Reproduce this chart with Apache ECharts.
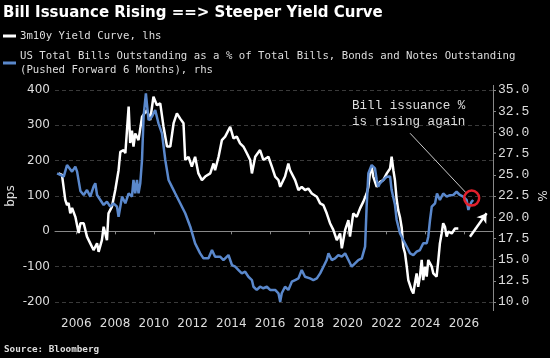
<!DOCTYPE html>
<html>
<head>
<meta charset="utf-8">
<script src="https://cdn.jsdelivr.net/npm/echarts@6/dist/echarts.min.js"></script>
<style>
html,body{margin:0;padding:0;background:#000;}
#chart{width:550px;height:358px;}
</style>
</head>
<body>
<div id="chart"></div>
<script>
// 3m10y yield curve (bps, left axis)
const curveYears = [2005.09,2005.26,2005.43,2005.52,2005.60,2005.69,2005.78,2005.95,2006.12,2006.21,2006.38,2006.55,2006.72,2006.89,2007.07,2007.15,2007.32,2007.41,2007.58,2007.66,2007.84,2008.01,2008.18,2008.27,2008.44,2008.53,2008.70,2008.78,2008.87,2008.95,2009.04,2009.21,2009.39,2009.64,2009.81,2009.98,2010.16,2010.33,2010.50,2010.68,2010.85,2011.02,2011.19,2011.36,2011.53,2011.62,2011.79,2011.96,2012.13,2012.30,2012.48,2012.65,2012.91,2013.08,2013.16,2013.34,2013.51,2013.68,2013.94,2014.11,2014.28,2014.45,2014.62,2014.80,2014.97,2015.06,2015.23,2015.48,2015.65,2015.91,2016.09,2016.26,2016.43,2016.52,2016.77,2016.94,2017.03,2017.29,2017.46,2017.63,2017.80,2017.97,2018.15,2018.41,2018.58,2018.75,2018.92,2019.09,2019.26,2019.44,2019.61,2019.70,2019.87,2020.04,2020.12,2020.29,2020.47,2020.64,2020.81,2020.98,2021.07,2021.15,2021.24,2021.32,2021.50,2021.67,2021.84,2022.02,2022.19,2022.27,2022.36,2022.44,2022.53,2022.61,2022.70,2022.79,2022.87,2022.96,2023.05,2023.13,2023.30,2023.39,2023.47,2023.56,2023.64,2023.73,2023.82,2023.90,2023.99,2024.08,2024.16,2024.34,2024.42,2024.59,2024.68,2024.76,2024.85,2024.93,2025.02,2025.11,2025.19,2025.37,2025.54,2025.71];
const curveBps = [164,160,89,74,80,51,66,41,-5,23,23,-15,-34,-53,-34,-58,-25,13,-25,51,70,117,173,225,230,221,353,250,285,240,277,258,324,343,315,381,357,362,296,240,240,306,334,319,306,202,211,183,211,164,145,155,164,192,173,211,258,268,296,263,268,249,240,221,202,164,211,230,202,211,183,155,145,126,155,192,173,145,117,126,117,121,107,98,79,74,51,23,4,-25,-6,-48,4,32,-15,51,41,65,84,107,126,164,183,155,126,140,145,164,178,211,173,145,90,60,40,10,-44,-62,-100,-138,-166,-176,-147,-119,-157,-128,-81,-138,-100,-128,-81,-100,-119,-128,-81,-34,-6,23,13,-15,-1,-6,8,8];

// US bills as % of bills, bonds and notes (pushed forward 6 months, right axis)
const billYears = [2005.01,2005.18,2005.35,2005.52,2005.60,2005.78,2005.95,2006.04,2006.21,2006.38,2006.55,2006.72,2006.89,2006.98,2007.07,2007.24,2007.41,2007.58,2007.75,2007.92,2008.10,2008.18,2008.36,2008.53,2008.70,2008.87,2008.95,2009.04,2009.13,2009.21,2009.30,2009.39,2009.47,2009.59,2009.64,2009.73,2009.90,2010.07,2010.24,2010.42,2010.59,2010.76,2010.93,2011.10,2011.36,2011.62,2011.88,2012.13,2012.39,2012.56,2012.82,2013.00,2013.16,2013.42,2013.59,2013.85,2014.03,2014.20,2014.37,2014.54,2014.71,2014.88,2015.06,2015.14,2015.31,2015.48,2015.65,2015.83,2016.00,2016.26,2016.43,2016.52,2016.60,2016.77,2016.94,2017.12,2017.29,2017.46,2017.63,2017.80,2018.06,2018.23,2018.41,2018.58,2018.75,2018.92,2019.01,2019.18,2019.35,2019.52,2019.70,2019.87,2020.04,2020.21,2020.38,2020.55,2020.73,2020.81,2020.90,2020.98,2021.07,2021.24,2021.41,2021.50,2021.58,2021.67,2021.84,2022.02,2022.19,2022.27,2022.44,2022.53,2022.70,2022.87,2023.05,2023.22,2023.39,2023.56,2023.73,2023.90,2024.08,2024.16,2024.25,2024.34,2024.51,2024.61,2024.76,2024.93,2025.11,2025.28,2025.45,2025.62,2025.79,2025.96,2026.14,2026.23,2026.31,2026.40,2026.48];
const billPct = [25.18,24.98,24.78,26.15,25.96,25.37,25.96,25.37,23.1,22.62,23.2,22.42,23.6,24.0,22.62,22.03,21.44,21.83,21.24,21.64,21.24,20.06,22.42,21.64,22.82,22.42,24.39,22.82,24.39,22.82,24.0,26.75,31.85,34.6,33.43,31.46,31.85,32.64,31.07,29.89,26.75,24.39,23.6,22.82,21.64,20.46,18.88,16.92,15.74,15.15,15.15,16.13,15.34,15.34,14.95,15.54,14.36,14.16,13.77,13.38,13.57,12.98,12.59,11.8,11.42,11.8,11.62,11.8,11.42,11.42,11.03,10.04,11.03,11.8,11.42,12.39,12.59,12.79,13.77,12.98,12.79,12.59,12.79,13.38,14.16,14.95,15.74,14.95,15.15,15.54,15.34,15.74,14.95,14.16,14.56,14.95,15.15,14.95,16.52,21.24,25.18,26.15,25.76,24.39,23.6,24.0,24.39,24.78,24.8,23.2,21.5,19.67,18.1,17.31,16.52,15.74,15.54,15.93,16.13,16.92,16.92,17.7,19.67,21.24,21.64,22.8,22.03,22.8,22.42,22.6,22.62,23.0,22.62,22.42,22.03,20.85,21.44,21.83,22.03];

const xTickYears = [2006,2008,2010,2012,2014,2016,2018,2020,2022,2024,2026];
const leftTicks = [-200,-100,0,100,200,300,400];
const rightTicks = [10,12.5,15,17.5,20,22.5,25,27.5,30,32.5,35];

const titleText = 'Bill Issuance Rising ==> Steeper Yield Curve';
const curveName = '3m10y Yield Curve, lhs';
const billName = 'US Total Bills Outstanding as a % of Total Bills, Bonds and Notes Outstanding\n(Pushed Forward 6 Months), rhs';

const chart = echarts.init(document.getElementById('chart'), null, {renderer:'canvas'});
const pair = (xs, ys) => xs.map((x, i) => [x, ys[i]]);

const option = {
  animation: false,
  backgroundColor: '#000',
  title: {
    text: titleText, left: 3, top: 6, padding: 0,
    textStyle: {color:'#fff', fontFamily:'DejaVu Sans', fontWeight:'bold', fontSize:15}
  },
  legend: {
    orient: 'vertical', left: 3, top: 29, padding: 0, itemWidth: 13, itemHeight: 3, itemGap: 6,
    icon: 'rect', selectedMode: false,
    textStyle: {color:'#ddd', fontFamily:'DejaVu Sans Mono', fontSize:10.7, lineHeight:14, padding:[0,0,0,-1]},
    data: [curveName, billName]
  },
  grid: {left: 55, right: 57, top: 90, bottom: 56, containLabel: false, outerBoundsMode: 'none'},
  xAxis: {
    type: 'value', min: 2004.9, max: 2027.5, offset: 9,
    axisLine: {show:true, lineStyle:{color:'#888', width:1}},
    axisTick: {show:true, length:3, customValues: xTickYears, lineStyle:{color:'#888'}},
    axisLabel: {customValues: xTickYears, color:'#ddd', fontFamily:'DejaVu Sans', fontSize:12, margin:7,
      formatter: v => String(Math.round(v))},
    splitLine: {show:false}
  },
  yAxis: [{
    type: 'value', min: -200, max: 400, interval: 100, position: 'left',
    name: 'bps', nameLocation: 'middle', nameRotate: 90, nameGap: 38, nameMoveOverlap: false,
    nameTextStyle: {color:'#ddd', fontFamily:'DejaVu Sans', fontSize:12},
    axisLine: {show:false}, axisTick: {show:false},
    axisLabel: {color:'#ddd', fontFamily:'DejaVu Sans', fontSize:12, margin:5},
    splitLine: {show:true, lineStyle:{color:['#3a3a3a','#3a3a3a','#9a9a9a','#3a3a3a','#3a3a3a','#3a3a3a','#3a3a3a'], type:[4,3], width:1}}
  },{
    type: 'value', min: 10, max: 35, interval: 2.5, position: 'right',
    name: '%', nameLocation: 'middle', nameRotate: -90, nameGap: 42, nameMoveOverlap: false,
    nameTextStyle: {color:'#ddd', fontFamily:'DejaVu Sans', fontSize:12},
    axisLine: {show:false},
    axisTick: {show:true, length:3, lineStyle:{color:'#888'}},
    axisLabel: {color:'#ddd', fontFamily:'Liberation Mono', fontSize:13, margin:5, formatter: v => v.toFixed(1)},
    splitLine: {show:false}
  }],
  graphic: [
    {type:'line', shape:{x1:493.5, y1:85, x2:493.5, y2:311}, style:{stroke:'#888', lineWidth:1}, silent:true},
    {type:'text', left: 352, top: 97, style:{text:'Bill issuance %\nis rising again', fill:'#ddd', font:'12.6px "Liberation Mono"', lineHeight:16.5}}
  ],
  series: [{
    name: curveName, type: 'line', yAxisIndex: 0, showSymbol: false, color: '#ffffff',
    lineStyle: {color:'#ffffff', width: 2.5}, data: pair(curveYears, curveBps), z: 3
  },{
    name: billName, type: 'line', yAxisIndex: 1, showSymbol: false, color: '#5a88cc',
    lineStyle: {color:'#5a88cc', width: 2.5}, data: pair(billYears, billPct), z: 4,
    markLine: {
      silent: true, animation: false, label: {show:false},
      data: [
        [{coord:[2023.22, 29.9], symbol:'none', lineStyle:{color:'#ccc', width:1, type:'solid'}},
         {coord:[2026.14, 22.8], symbol:'none'}],
        [{coord:[2026.31, 17.7], symbol:'none', lineStyle:{color:'#fff', width:2.5, type:'solid'}},
         {coord:[2027.17, 20.46], symbol:'arrow', symbolSize:[9,9]}]
      ]
    },
    markPoint: {
      silent: true, animation: false,
      data: [{coord:[2026.40, 22.25], symbol:'circle', symbolSize:15,
        itemStyle:{color:'rgba(0,0,0,0)', borderColor:'#e2202c', borderWidth:2.5}, label:{show:false}}]
    }
  }]
};
chart.setOption(option);
</script>
<div style="position:absolute;left:4px;top:343px;color:#ddd;font:bold 9.3px 'DejaVu Sans Mono';">Source: Bloomberg</div>
</body>
</html>
